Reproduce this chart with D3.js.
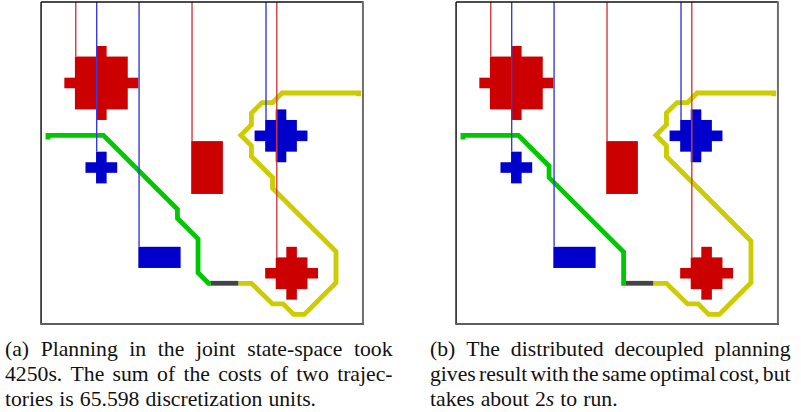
<!DOCTYPE html>
<html>
<head>
<meta charset="utf-8">
<script src="https://cdn.jsdelivr.net/npm/d3@7/dist/d3.min.js"></script>
<style>
  html, body { margin: 0; padding: 0; background: #fff; }
  svg { display: block; }
  .cap { font-family: "Liberation Serif", "Times New Roman", Times, "DejaVu Serif", serif; }
</style>
</head>
<body>
<svg id="fig" width="801" height="412"></svg>
<script>
// ---- workspace obstacles, in grid cells: [x0, y0, x1, y1] ----
const redBlocks = [
  [5, 4, 6, 11], [3, 5, 8, 10], [2, 7, 9, 8],        // large cross, top left
  [14, 13, 17, 18],                                   // tall block, centre
  [23, 23, 24, 28], [22, 24, 25, 27], [21, 25, 26, 26] // cross, bottom right
];
const blueBlocks = [
  [5, 14, 6, 17], [4, 15, 7, 16],                     // small cross, left
  [9, 23, 13, 25],                                    // flat block
  [22, 10, 23, 15], [21, 11, 24, 14], [20, 12, 25, 13] // cross, top right
];

// thin guide lines dropping from the top edge onto each obstacle
const guideX     = [3.08, 5.06, 9.07, 14.08, 21.08, 22.1];
const guideEnd   = [5, 14, 23, 13, 11, 24];
const guideColor = ["red", "blue", "blue", "red", "blue", "red"];

// ---- robot trajectories (grid units) ----
const greenPathA = [[0.45, 12.85], [0.45, 12.45], [5.7, 12.45], [12.7, 19.45], [12.7, 20.3],
  [14.65, 22.25], [14.65, 25.45], [15.65, 26.45], [15.87, 26.45]];
const yellowPathA = [[29.85, 8.75], [29.85, 8.45], [22.6, 8.45], [21.7, 9.35], [20.7, 9.35],
  [19.7, 10.35], [19.7, 11.45], [18.7, 12.45], [19.7, 13.45], [19.7, 14.45], [21.7, 16.45],
  [21.7, 17.45], [27.7, 23.45], [27.7, 26.4], [24.7, 29.4], [23.7, 29.4], [22.7, 28.4],
  [21.7, 28.4], [19.7, 26.45], [18.46, 26.45]];

const greenPathB = [[0.45, 12.85], [0.45, 12.45], [5.7, 12.45], [8.6, 15.35], [8.6, 16.45],
  [15.65, 23.5], [15.65, 26.45], [15.87, 26.45]];
const yellowPathB = [[29.85, 8.75], [29.85, 8.45], [22.6, 8.45], [21.7, 9.35], [20.7, 9.35],
  [19.7, 10.35], [19.7, 11.45], [18.7, 12.45], [19.7, 13.45], [19.7, 14.45], [27.7, 22.45],
  [27.7, 26.4], [24.7, 29.4], [23.7, 29.4], [22.7, 28.4], [21.7, 28.4], [19.7, 26.45],
  [18.46, 26.45]];

const sharedStretch = [[15.87, 26.45], [18.46, 26.45]];

// ---- captions ($...$ marks italic) ----
const captionA = [
  "(a) Planning in the joint state-space took",
  "4250s. The sum of the costs of two trajec-",
  "tories is 65.598 discretization units."
];
const captionB = [
  "(b) The distributed decoupled planning",
  "gives result with the same optimal cost, but",
  "takes about 2$s$ to run."
];

const colors = {
  red: "#cc0000", blue: "#0000cc",
  redLine: "#d63a3a", blueLine: "#3a3ade",
  green: "#00c800", yellow: "#cccc00", shared: "#444444"
};

const svg = d3.select("#fig");
const yScale = d3.scaleLinear().domain([0, 30]).range([3.7, 320.8]);

function drawPanel(xLeft, greenPath, yellowPath) {
  const x = d3.scaleLinear().domain([0, 30]).range([xLeft, xLeft + 317.1]);
  const y = yScale;
  const g = svg.append("g");

  const bx0 = x(-0.2), bx1 = x(30.25), by0 = y(-0.16), by1 = y(30.3);

  // obstacles
  const block = (data, fill) => g.selectAll(null).data(data).enter().append("rect")
    .attr("x", d => x(d[0])).attr("y", d => y(d[1]))
    .attr("width", d => x(d[2]) - x(d[0])).attr("height", d => y(d[3]) - y(d[1]))
    .attr("fill", fill);
  block(redBlocks, colors.red);
  block(blueBlocks, colors.blue);

  // trajectories
  const line = d3.line().x(d => x(d[0])).y(d => y(d[1]));
  const path = (pts, stroke) => g.append("path").attr("d", line(pts))
    .attr("fill", "none").attr("stroke", stroke).attr("stroke-width", 4.8)
    .attr("stroke-linejoin", "miter").attr("stroke-linecap", "butt");
  path(greenPath, colors.green);
  path(yellowPath, colors.yellow);
  path(sharedStretch, colors.shared);

  // guide lines
  g.selectAll(null).data(guideX).enter().append("line")
    .attr("x1", d => x(d)).attr("x2", d => x(d))
    .attr("y1", by0).attr("y2", (d, i) => y(guideEnd[i]))
    .attr("stroke", (d, i) => guideColor[i] === "red" ? colors.redLine : colors.blueLine)
    .attr("stroke-width", 1.4);

  // frame edges: dark top/left, grey bottom/right
  g.append("line").attr("x1", bx0).attr("x2", bx1).attr("y1", by0).attr("y2", by0)
    .attr("stroke", "#111").attr("stroke-width", 1.6);
  g.append("line").attr("x1", bx0).attr("x2", bx0).attr("y1", by0).attr("y2", by1)
    .attr("stroke", "#222").attr("stroke-width", 1.6);
  g.append("line").attr("x1", bx1).attr("x2", bx1).attr("y1", by0 - 0.8).attr("y2", by1 + 1)
    .attr("stroke", "#6e6e6e").attr("stroke-width", 2);
  g.append("line").attr("x1", bx0 - 0.8).attr("x2", bx1 + 1).attr("y1", by1).attr("y2", by1)
    .attr("stroke", "#5e5e5e").attr("stroke-width", 2);
}

drawPanel(43.2, greenPathA, yellowPathA);
drawPanel(458.2, greenPathB, yellowPathB);

// ---- justified captions ----
const fontSize = 21.7;
const baselines = [355.5, 380.5, 405.5];

function addWord(word, yPos) {
  const t = svg.append("text").attr("class", "cap").attr("y", yPos)
    .style("font-size", fontSize + "px").attr("fill", "#111");
  word.split("$").forEach((seg, k) => {
    if (!seg) return;
    t.append("tspan").style("font-style", k % 2 ? "italic" : "normal").text(seg);
  });
  return t;
}

function drawCaption(lines, x0, x1) {
  lines.forEach((lineText, i) => {
    const words = lineText.split(" ");
    const els = words.map(w => addWord(w, baselines[i]));
    const widths = els.map(e => e.node().getComputedTextLength());
    const total = d3.sum(widths);
    const last = i === lines.length - 1;
    const gap = last ? fontSize * 0.28 : (x1 - x0 - total) / (words.length - 1);
    let cx = x0;
    els.forEach((e, k) => { e.attr("x", cx); cx += widths[k] + gap; });
  });
}

drawCaption(captionA, 5, 392.5);
drawCaption(captionB, 430, 790.5);
</script>
</body>
</html>
